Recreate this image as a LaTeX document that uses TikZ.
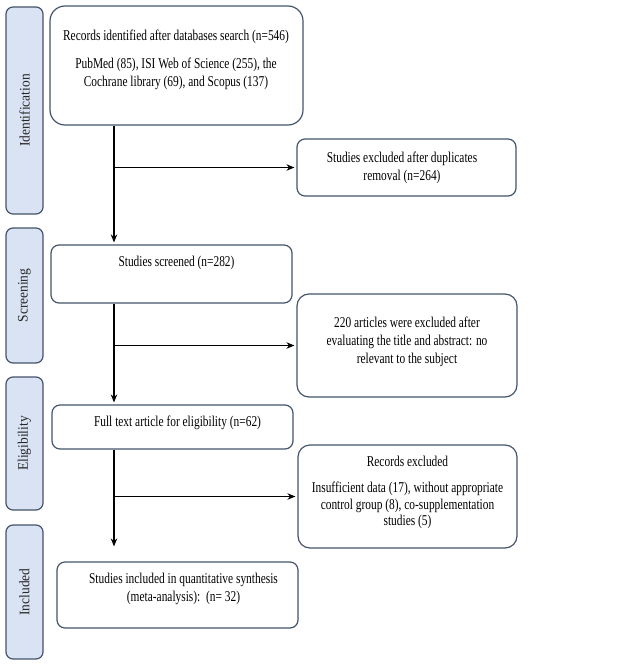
\documentclass[tikz,border=0pt]{standalone}
\usepackage{fontspec}
\setmainfont{Liberation Serif}[FakeStretch=0.76]
\newfontfamily\phasefont{Liberation Serif}[FakeStretch=0.93]
\usetikzlibrary{arrows.meta}

\definecolor{phasefill}{HTML}{DAE3F3}
\definecolor{edgeslate}{HTML}{44546A}

\tikzset{
  phase/.style={draw=edgeslate, fill=phasefill, very thick, rounded corners=7pt,
    rotate=90, minimum height=37pt, inner sep=0pt, text=black!85,
    font=\phasefont\fontsize{14.5}{16}\selectfont},
  stagebox/.style={draw=edgeslate, very thick, rounded corners=8pt, inner sep=0pt},
  boxtext/.style={align=center, inner sep=0pt},
  flow/.style={->, line width=1.4pt},
}

\begin{document}
\begin{tikzpicture}[x=1pt, y=-1pt, >={Stealth[length=8pt,width=6.5pt]},
    font=\fontsize{15}{18}\selectfont]
    \useasboundingbox (0,0) rectangle (629,666);

    % Phase bars on the left
    \node[phase, minimum width=207] (ident) at (24.5,110.5) {Identification};
    \node[phase, minimum width=135] (screen) at (24.5,295.5) {Screening};
    \node[phase, minimum width=133] (elig) at (24.5,443.5) {Eligibility};
    \node[phase, minimum width=134] (incl) at (24.5,592) {Included};

    % Draw the boxes
    \node[stagebox, rounded corners=15pt, minimum width=253, minimum height=119] (rec) at (176.5,65.5) {};
    \node[stagebox, minimum width=219, minimum height=57] (dup) at (406.5,167.5) {};
    \node[stagebox, minimum width=241, minimum height=58] (scr) at (171.5,274) {};
    \node[stagebox, rounded corners=12pt, minimum width=220, minimum height=103] (art) at (407,345.5) {};
    \node[stagebox, minimum width=241, minimum height=44] (full) at (172.5,427) {};
    \node[stagebox, rounded corners=12pt, minimum width=219, minimum height=103] (exc) at (407.5,496.5) {};
    \node[stagebox, minimum width=241, minimum height=66] (inc) at (177.5,595) {};

    % Labels inside the boxes
    \node[boxtext] (rectxt) at (176,60) {Records identified after databases search (n=546)\\[10pt]
      PubMed (85), ISI Web of Science (255), the\\ Cochrane library (69), and Scopus (137)};
    \node[boxtext] (duptxt) at (402,167.5) {Studies excluded after duplicates\\ removal (n=264)};
    \node[boxtext] (scrtxt) at (176.5,263) {Studies screened (n=282)};
    \node[boxtext] (arttxt) at (407,341.5) {220 articles were excluded after\\ evaluating the title and abstract: no\\ relevant to the subject};
    \node[boxtext] (fulltxt) at (177.5,423) {Full text article for eligibility (n=62)};
    \node[boxtext, font=\fontsize{15}{16.5}\selectfont] (exctxt) at (407.5,492.5) {Records excluded\\[10pt]
      Insufficient data (17), without appropriate\\ control group (8), co-supplementation\\ studies (5)};
    \node[boxtext] (inctxt) at (183.5,589) {Studies included in quantitative synthesis\\ (meta-analysis):\ \ (n= 32)};

    % Main flow and exclusion arrows
    \coordinate (trunk) at (114,0);
    \draw[flow, shorten >=2pt] (rec.south -| trunk) -- (scr.north -| trunk);
    \draw[flow, shorten >=2pt] (trunk |- dup.west) -- (dup.west);
    \draw[flow, shorten >=2pt] (scr.south -| trunk) -- (full.north -| trunk);
    \draw[flow, shorten >=2pt] (trunk |- art.west) -- (art.west);
    \draw[flow, shorten >=15pt] (full.south -| trunk) -- (inc.north -| trunk);
    \draw[flow, shorten >=2pt] (trunk |- exc.west) -- (exc.west);
\end{tikzpicture}
\end{document}
